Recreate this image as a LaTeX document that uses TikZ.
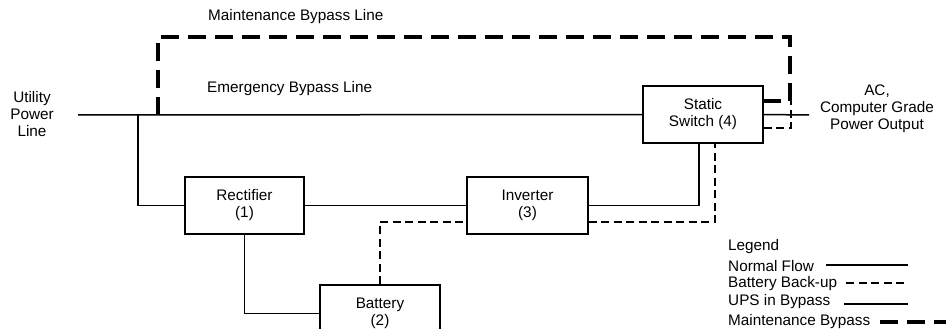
\documentclass[tikz,border=0pt]{standalone}
\usepackage{fontspec}
\setmainfont{Liberation Sans}
\usetikzlibrary{positioning, calc}

\begin{document}
\begin{tikzpicture}[x=1pt, y=-1pt,
  every node/.style={font=\fontsize{15.3}{17}\selectfont, inner sep=0pt},
  box/.style={draw, line width=1.5pt, minimum height=57pt, align=center},
  normal/.style={line width=1.5pt},
  backup/.style={line width=1.5pt, dash pattern=on 8pt off 4.5pt},
  maint/.style={line width=4.5pt, dash pattern=on 18pt off 9pt},
  lbl/.style={anchor=west}]
\clip (0,0) rectangle (946,329);
\node[box, minimum width=119pt] (rect) at (244.5,205.5) {Rectifier\\(1)};
\node[box, minimum width=121pt] (inv)  at (527.5,205.5) {Inverter\\(3)};
\node[box, minimum width=120pt] (batt) at (380,313.5) {Battery\\(2)};
\node[box, minimum width=120pt] (sw)   at (703,114.5) {Static\\Switch (4)};
\coordinate (in) at (78,115);
\coordinate (j1) at (138,115);
\coordinate (j2) at (158,115);
\coordinate (mb) at (790,37);
\coordinate (out) at (809,115);
% normal flow
\draw[normal] (in) -- (sw.west);
\draw[normal] (sw.east) -- (out);
\draw[normal] (j1) |- (rect.west);
\draw[normal] (rect.east) -- (inv.west);
\draw[normal] (inv.east) -| ([xshift=-4pt]sw.south);
\draw[normal] (rect.south) |- (batt.west);
% battery back-up
\draw[backup] (batt.north) |- ([yshift=-16.5pt]inv.west);
\draw[backup] ([yshift=-16.5pt]inv.east) -| ([xshift=12pt]sw.south);
\draw[backup] ([yshift=-13.5pt]sw.east) -| ($(mb)+(1,64)$);
% maintenance bypass
\draw[maint] (j2) |- (mb) -- ($(mb)+(0,64)$) -- ([yshift=13.5pt]sw.east);
% labels
\node[lbl] (mbl) at (208,17) {Maintenance Bypass Line};
\node[lbl] (ebl) at (207,89) {Emergency Bypass Line};
\node[align=center] (upl) at (32,114) {Utility\\Power\\Line};
\node[align=center] (acl) at (877,109) {AC,\\Computer Grade\\Power Output};
% legend
\node[lbl] (lg)  at (728,247) {Legend};
\node[lbl] (lg1) at (728,266) {Normal Flow};
\node[lbl] (lg2) at (728,284) {Battery Back-up};
\node[lbl] (lg3) at (728,302) {UPS in Bypass};
\node[lbl] (lg4) at (728,322) {Maintenance Bypass};
\draw[normal] (826,265) -- (908,265);
\draw[backup] (846,283) -- (908,283);
\draw[normal] (844,304) -- (908,304);
\draw[maint] (880,322) -- (950,322);
\end{tikzpicture}
\end{document}
